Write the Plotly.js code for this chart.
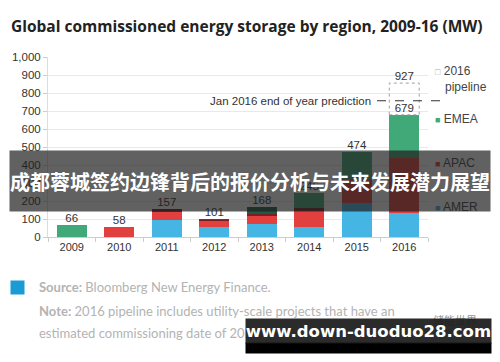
<!DOCTYPE html>
<html>
<head>
<meta charset="utf-8">
<script src="https://cdn.plot.ly/plotly-3.0.1.min.js"></script>
<style>html,body{margin:0;padding:0;background:#fff;}#chart{width:500px;height:362px;}</style>
</head>
<body>
<div id="chart"></div>
<script>
// ---- data ----
const years = ['2009','2010','2011','2012','2013','2014','2015','2016'];
const amer      = [0, 0, 92, 56, 72, 55, 189, 135];
const apac      = [0, 58, 48, 33, 44, 87, 129, 304];
const apacDark  = [0, 0, 17, 6, 12, 19, 0, 0];
const emeaDark  = [0, 0, 0, 6, 40, 0, 0, 0];
const emea      = [66, 0, 0, 0, 0, 84, 156, 240];
const totals    = [66, 58, 157, 101, 168, 245, 474, 679];
const pipelineYear = '2016';
const pipelineDrawnTop = 855;   // top of the dashed box as drawn
const pipelineLabel = 927;
const predictionLevel = 757;

// ---- styling ----
const C = {amer:'#45b5e4', apac:'#e2403f', apacDark:'#7a1f22', emeaDark:'#1f5a44', emea:'#41a877'};
const FONT = 'Liberation Sans, Arial, sans-serif';
const PL=48, PR=428, PT=57, PB=237;
const fx = px => (px-PL)/(PR-PL);
const fy = py => (PB-py)/(PB-PT);
const BW = 0.63;

function bar(name, y, color){
  return {type:'bar', name:name, x:years, y:y, width:BW, marker:{color:color}, showlegend:false, hoverinfo:'skip'};
}
const traces = [
  bar('AMER', amer, C.amer),
  bar('APAC', apac, C.apac),
  bar('APAC (dark)', apacDark, C.apacDark),
  bar('EMEA (dark)', emeaDark, C.emeaDark),
  bar('EMEA', emea, C.emea),
  {type:'scatter', mode:'text', x:years, y:totals, text:totals.map(String), textposition:'top center',
   textfont:{family:FONT,size:11.5,color:'#333'}, showlegend:false, cliponaxis:false, hoverinfo:'skip'},
  {type:'scatter', mode:'text', x:[pipelineYear], y:[pipelineDrawnTop], text:[String(pipelineLabel)], textposition:'top center',
   textfont:{family:FONT,size:11.5,color:'#333'}, showlegend:false, cliponaxis:false, hoverinfo:'skip'}
];

const pi = years.indexOf(pipelineYear);
const shapes = [
  {type:'rect', xref:'x', yref:'y', x0:pi-BW/2, x1:pi+BW/2, y0:totals[pi], y1:pipelineDrawnTop,
   line:{color:'#a0a0a0', width:1, dash:'dot'}, fillcolor:'rgba(0,0,0,0)'},
  {type:'line', xref:'paper', yref:'y', x0:fx(377), x1:fx(440), y0:predictionLevel, y1:predictionLevel,
   line:{color:'#333', width:1.2, dash:'dash'}}
];

function legendItem(py, symColor, label, sym){
  return {xref:'paper', yref:'paper', x:fx(433), y:fy(py), xanchor:'left', yanchor:'middle', showarrow:false, align:'left',
    text:'<span style="color:'+symColor+';font-size:9px">'+(sym||'■')+'</span> '+label,
    font:{family:FONT,size:12,color:'#444'}};
}

const NOTEFONT = {family:'Lato, Open Sans, sans-serif',size:13,color:'#b3b3b3'};
const annotations = [
  {xref:'paper', yref:'paper', x:fx(373), y:fy(101), xanchor:'right', yanchor:'middle', showarrow:false,
   text:'Jan 2016 end of year prediction', font:{family:FONT,size:11.5,color:'#333'}},
  {xref:'paper', yref:'paper', x:fx(433), y:fy(79), xanchor:'left', yanchor:'middle', showarrow:false, align:'left',
   text:'<span style="color:#aaa;font-size:9px">□</span> 2016<br>   pipeline', font:{family:FONT,size:12,color:'#444'}},
  legendItem(119, C.emea, 'EMEA'),
  legendItem(163, C.apac, 'APAC'),
  legendItem(207, C.amer, 'AMER'),
  // source box
  {xref:'paper', yref:'paper', x:fx(10), y:fy(280), xanchor:'left', yanchor:'top', showarrow:false, text:' ',
   width:13, height:13, bgcolor:'#1a9bd7', borderpad:0},
  {xref:'paper', yref:'paper', x:fx(37), y:fy(287), xanchor:'left', yanchor:'middle', showarrow:false,
   text:'<b>Source:</b> Bloomberg New Energy Finance.', font:NOTEFONT},
  {xref:'paper', yref:'paper', x:fx(37), y:fy(311), xanchor:'left', yanchor:'middle', showarrow:false,
   text:'<b>Note:</b> 2016 pipeline includes utility-scale projects that have an', font:NOTEFONT},
  {xref:'paper', yref:'paper', x:fx(37), y:fy(333), xanchor:'left', yanchor:'middle', showarrow:false,
   text:'estimated commissioning date of 2016.', font:NOTEFONT},
  {xref:'paper', yref:'paper', x:fx(455), y:fy(320), xanchor:'center', yanchor:'middle', showarrow:false,
   text:'储能世界', font:{family:'Noto Sans CJK SC',size:11,color:'#999'}},
  // overlay banner
  {xref:'paper', yref:'paper', x:fx(250), y:fy(181), xanchor:'center', yanchor:'middle', showarrow:false,
   width:480, height:60, borderpad:0, bgcolor:'rgba(30,30,30,0.7)',
   text:'<b>成都蓉城签约边锋背后的报价分析与未来发展潜力展望</b>', font:{family:'Noto Sans CJK SC',size:20,color:'#fff'}},
  // watermark box
  {xref:'paper', yref:'paper', x:fx(368.5), y:fy(347.5), xanchor:'center', yanchor:'middle', showarrow:false,
   width:245, height:10, borderpad:0, bgcolor:'#000', text:' '},
  {xref:'paper', yref:'paper', x:fx(368.5), y:fy(331), xanchor:'center', yanchor:'middle', showarrow:false,
   width:245, height:24, borderpad:0, bgcolor:'rgba(25,25,25,0.92)',
   text:'<b>www.down-duoduo28.com</b>', font:{family:'DejaVu Sans',size:16.5,color:'#fff'}}
];

const layout = {
  width:500, height:362,
  margin:{l:PL, r:500-PR, t:PT, b:362-PB, pad:0},
  paper_bgcolor:'#fff', plot_bgcolor:'#fff',
  barmode:'stack',
  title:{text:'<b>Global commissioned energy storage by region, 2009-16 (MW)</b>', x:11/500, xref:'container', xanchor:'left',
         y:1-27/362, yref:'container', yanchor:'middle', font:{family:'Open Sans, sans-serif', size:15.5, color:'#222'}},
  xaxis:{type:'category', range:[-0.5,7.5], showgrid:false, showline:true, linecolor:'#ccc', ticks:'outside', tickson:'boundaries',
         ticklen:4, tickcolor:'#ccc', tickfont:{family:FONT,size:11,color:'#333'}, fixedrange:true},
  yaxis:{range:[0,1000], dtick:100, tickformat:',', showgrid:true, gridcolor:'#e9e9e9', zeroline:false, showline:true, linecolor:'#ddd',
         ticks:'outside', ticklen:4, tickcolor:'#ccc', tickfont:{family:FONT,size:11.5,color:'#333'}, fixedrange:true},
  shapes:shapes,
  annotations:annotations,
  showlegend:false
};

Plotly.newPlot('chart', traces, layout, {displayModeBar:false, staticPlot:true});
</script>
</body>
</html>
